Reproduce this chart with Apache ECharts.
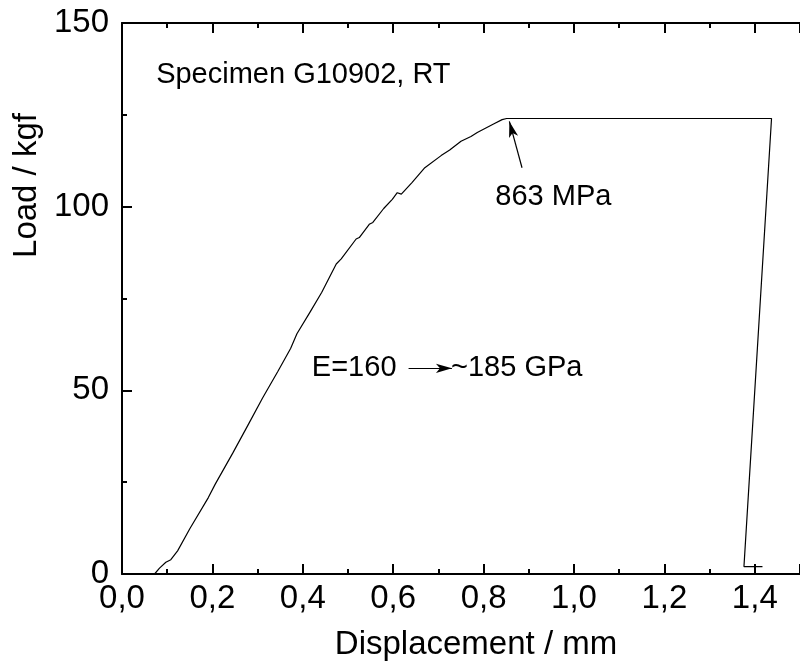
<!DOCTYPE html>
<html>
<head>
<meta charset="utf-8">
<script src="https://cdn.jsdelivr.net/npm/echarts@6/dist/echarts.min.js"></script>
<style>
html,body{margin:0;padding:0;background:#fff;}
#chart{width:800px;height:666px;}
</style>
</head>
<body>
<div id="chart"></div>
<script>
// ---- data ----
const displacement = [0.072, 0.083, 0.097, 0.108, 0.123, 0.150, 0.191, 0.206, 0.245, 0.279, 0.311, 0.345, 0.373, 0.387, 0.416, 0.442, 0.474, 0.485, 0.518, 0.525, 0.547, 0.555, 0.579, 0.598, 0.609, 0.618, 0.641, 0.670, 0.706, 0.725, 0.750, 0.772, 0.786, 0.822, 0.841, 0.851, 1.437, 1.376, 1.417];
const load = [0, 1.6, 3.2, 3.9, 6.3, 12.3, 20.8, 24.4, 32.9, 40.6, 47.9, 55.2, 61.4, 65.4, 71.3, 76.7, 84.4, 85.8, 91.2, 91.6, 95.2, 95.7, 99.5, 102.0, 103.8, 103.4, 106.5, 110.6, 113.9, 115.4, 117.8, 119.1, 120.2, 122.5, 123.7, 124.0, 124.0, 2.0, 2.0];

const xMin = 0, xMax = 1.5, xStep = 0.2;
const yMin = 0, yMax = 150, yStep = 50;

const annotationTexts = ['Specimen G10902, RT', '863 MPa', 'E=160', '~185 GPa'];
const annotationX = [0.0755, 0.826, 0.420, 0.728];
const annotationY = [135.8, 102.5, 56.2, 56.2];

const arrowFrom = [[0.885, 110.6], [0.634, 56.0]];
const arrowTo = [[0.857, 123.2], [0.730, 56.0]];

// ---- chart ----
const FONT = '"Liberation Sans", Arial, Helvetica, sans-serif';
const chart = echarts.init(document.getElementById('chart'), null, {renderer: 'canvas'});

const seriesData = displacement.map((x, i) => [x, load[i]]);
const annData = annotationTexts.map((t, i) => ({value: [annotationX[i], annotationY[i]], name: t}));
const arrowData = arrowFrom.map((f, i) => [{coord: f}, {coord: arrowTo[i]}]);

const axisLineStyle = {color: '#000', width: 2};
const xFmt = v => v.toFixed(1).replace('.', ',');

const option = {
  animation: false,
  backgroundColor: '#fff',
  grid: {left: 122, top: 23, width: 689, height: 554, containLabel: false},
  xAxis: [{
    type: 'value', min: xMin, max: xMax, interval: xStep, position: 'bottom',
    name: 'Displacement / mm', nameLocation: 'middle', nameGap: 54,
    nameTextStyle: {fontFamily: FONT, fontSize: 33, color: '#000', padding: [0, 0, 0, 30]},
    axisLine: {show: true, onZero: false, lineStyle: axisLineStyle},
    axisTick: {show: true, inside: true, length: 10, lineStyle: {color: '#000', width: 2}},
    minorTick: {show: true, splitNumber: 2, length: 5, lineStyle: {color: '#000', width: 2}},
    axisLabel: {show: true, formatter: xFmt, fontFamily: FONT, fontSize: 33, color: '#000', margin: 8, showMaxLabel: false, hideOverlap: false},
    splitLine: {show: false}
  }, {
    type: 'value', min: xMin, max: xMax, interval: xStep, position: 'top',
    axisLine: {show: true, onZero: false, lineStyle: axisLineStyle},
    axisTick: {show: true, inside: true, length: 10, lineStyle: {color: '#000', width: 2}},
    minorTick: {show: true, splitNumber: 2, length: 5, lineStyle: {color: '#000', width: 2}},
    axisLabel: {show: false},
    splitLine: {show: false}
  }],
  yAxis: [{
    type: 'value', min: yMin, max: yMax, interval: yStep, position: 'left',
    name: 'Load / kgf', nameLocation: 'middle', nameGap: 68,
    nameTextStyle: {fontFamily: FONT, fontSize: 33, color: '#000', padding: [0, 0, 0, 226]},
    axisLine: {show: true, onZero: false, lineStyle: axisLineStyle},
    axisTick: {show: true, inside: true, length: 10, lineStyle: {color: '#000', width: 2}},
    minorTick: {show: true, splitNumber: 2, length: 5, lineStyle: {color: '#000', width: 2}},
    axisLabel: {show: true, fontFamily: FONT, fontSize: 33, color: '#000', margin: 13, hideOverlap: false},
    splitLine: {show: false}
  }],
  series: [{
    name: 'Load',
    type: 'line',
    data: seriesData,
    showSymbol: false,
    symbol: 'none',
    lineStyle: {color: '#000', width: 1.2},
    silent: true,
    markLine: {
      silent: true,
      symbol: ['none', 'arrow'],
      symbolSize: [7, 16],
      label: {show: false},
      lineStyle: {color: '#000', width: 1.2, type: 'solid', opacity: 1},
      data: arrowData
    }
  }, {
    name: 'Annotations',
    type: 'scatter',
    data: annData,
    symbolSize: 0,
    silent: true,
    itemStyle: {opacity: 1, color: '#000'},
    label: {
      show: true, position: 'right', distance: 0,
      formatter: p => p.name,
      fontFamily: FONT, fontSize: 29, color: '#000', opacity: 1
    }
  }]
};
chart.setOption(option);
</script>
</body>
</html>
